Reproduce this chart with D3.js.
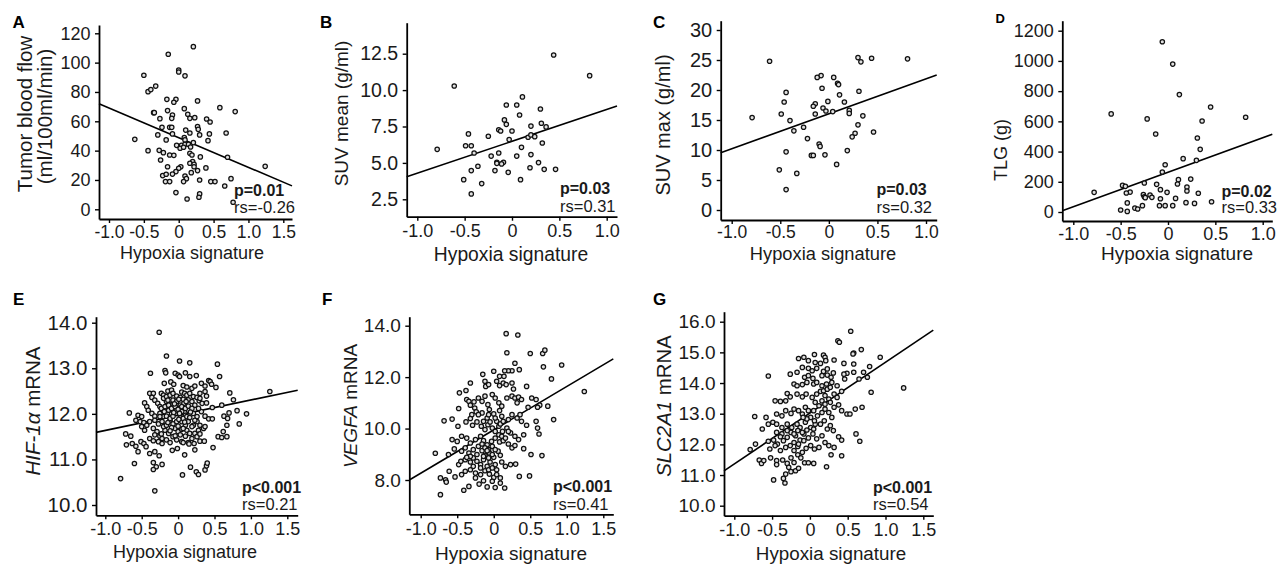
<!DOCTYPE html>
<meta charset="utf-8">
<style>
    body { margin: 0; background: #fff; }

    text {
        font-family: "Liberation Sans", Arial, sans-serif;
        fill: #1a1a1a;
        white-space: pre;
    }

    .axis path { stroke: #000; stroke-width: 1.8px; }
    .axis line { stroke: #000; stroke-width: 1.4px; }

    .dot {
        fill: #e0e0e0;
        stroke: #111;
        stroke-width: 1.25px;
    }

    .fit {
        stroke: #000;
        stroke-width: 1.6px;
    }
</style>

<svg width="1287" height="565"></svg>

<script src="https://cdn.jsdelivr.net/npm/d3@7"></script>
<script>

    // DATA  ([hypoxia signature, value])

    var pointsA = [[0.21,110.9],[-0.15,105.7],[-0.50,91.4],[0,95],[0,93.6],[0.09,91],[-0.44,80.2],[-0.40,81.6],[-0.33,84],[-0.17,75],[-0.04,75],[-0.07,73],[0.27,73.9],[0.59,69.3],[0.81,66.6],[0.08,68.6],[-0.16,67.3],[-0.09,64.3],[-0.36,65.9],[-0.35,65.9],[0.13,64.8],[0.16,62],[0.23,62.5],[-0.27,61.8],[-0.10,62],[0.40,61.6],[0.45,59.5],[0.27,56.4],[0.28,54.5],[-0.13,55.9],[-0.10,55.9],[-0.24,55.9],[0.10,54],[0.16,52],[0.30,50.7],[0.44,51.4],[0.68,52],[-0.30,50.7],[-0.09,51.4],[0.08,48.9],[-0.63,47.7],[-0.18,47.3],[0.09,47.3],[0.21,45.5],[0.42,46.8],[-0.03,43.6],[0.04,43.6],[0.09,44.3],[0.14,44.3],[0.02,41.6],[0.07,42.3],[0.17,42.5],[-0.44,40],[-0.28,40.2],[-0.22,38.6],[0.16,38.2],[0.19,37],[-0.13,37],[-0.07,36.8],[0.31,35.7],[0.70,35.5],[0.20,32.5],[0.16,31.4],[0.22,30.7],[-0.26,33.6],[-0.16,29],[0.03,29],[0,28],[-0.04,25.7],[0.22,29],[0.39,28.2],[1.24,29.3],[-0.23,23],[-0.18,23.9],[-0.09,24],[0.18,25],[0.27,26.4],[0.09,22.7],[0.11,20.9],[0.07,18.9],[-0.19,18.9],[-0.13,18.9],[0.30,20],[0.46,18.9],[0.52,18.9],[0.75,20.9],[0.66,15.9],[-0.04,11.4],[0.12,7],[0.30,10.5],[0.29,8.2],[0.78,4.8]];

    var pointsB = [[0.44,12.41],[0.82,10.99],[-0.61,10.28],[0.11,9.53],[-0.06,8.98],[0.05,8.98],[0.30,8.70],[0.08,8.29],[-0.08,7.95],[-0.06,7.65],[0.20,7.53],[0.31,7.72],[0.36,7.47],[-0.14,7.28],[-0.12,7.19],[0,7.19],[-0.46,6.99],[-0.25,6.83],[0.17,6.76],[0.20,6.92],[0.24,6.80],[-0.03,6.60],[0.32,6.37],[-0.49,6.18],[-0.43,6.18],[0.10,6.07],[-0.40,5.68],[-0.14,5.68],[-0.79,5.93],[-0.22,5.47],[0.05,5.47],[0.20,5.57],[-0.16,5.04],[-0.16,4.97],[-0.09,5.04],[-0.11,4.93],[0.28,5.02],[-0.36,4.77],[0.19,4.67],[0.34,4.56],[0.46,4.56],[-0.43,4.47],[-0.18,4.47],[-0.04,4.35],[-0.51,3.85],[0.09,3.85],[-0.32,3.58],[-0.43,2.87]];

    var pointsC = [[-0.61,24.8],[0.30,25.4],[0.44,25.3],[0.81,25.2],[0.33,24.7],[-0.08,22.4],[-0.12,22.1],[0.05,22.1],[0.09,21.1],[0.10,20.9],[-0.07,20.3],[0.31,19.8],[-0.44,19.6],[0.11,19.2],[-0.01,18.1],[-0.46,18.0],[0.16,18.0],[-0.14,17.7],[-0.16,17.3],[-0.06,17],[-0.03,16.5],[0.04,16.4],[0.21,16.6],[0.21,16.1],[-0.14,16],[-0.49,16],[0.35,15.7],[-0.79,15.4],[-0.40,14.9],[0.30,14.2],[-0.26,13.8],[-0.36,13.2],[0.27,12.8],[0.46,13],[0.24,12.2],[-0.22,11.9],[-0.10,11],[-0.09,10.6],[-0.44,9.7],[0.19,9.9],[-0.18,9.1],[-0.16,9.1],[-0.04,9.2],[0.08,7.6],[-0.51,6.7],[-0.33,6.1],[-0.44,3.4]];

    var pointsD = [[-0.06,1127],[0.05,979],[0.12,777],[0.45,695],[-0.60,649],[0.82,627],[-0.22,616],[0.36,602],[-0.13,516],[0.31,490],[0.34,415],[0.16,353],[0.30,342],[-0.03,313],[-0.06,265],[0.11,214],[0.24,218],[-0.25,192],[-0.48,176],[-0.45,170],[-0.12,183],[0.10,185],[0.20,165],[0.20,139],[-0.26,115],[-0.25,101],[-0.24,95],[-0.19,112],[-0.17,97],[-0.78,130],[-0.40,132],[-0.44,126],[-0.08,148],[-0.01,130],[0.32,124],[0.08,90],[-0.08,88],[-0.43,60],[0.19,62],[0.28,57],[0.46,68],[-0.27,42],[-0.09,42],[-0.03,42],[0.05,42],[-0.35,26],[-0.32,20],[-0.50,13],[-0.43,4]];

    var pointsE = [[-0.26,13.79],[-0.16,13.27],[0.02,13.16],[0.16,13.12],[0.54,13.09],[-0.38,12.89],[-0.18,12.95],[-0.17,12.90],[-0.04,12.89],[0,12.85],[0.02,12.82],[0.10,12.90],[0.16,12.82],[0.25,12.84],[0.57,12.82],[0.42,12.73],[0.44,12.71],[0.32,12.67],[0.37,12.61],[0.46,12.65],[0.52,12.58],[-0.19,12.67],[-0.10,12.70],[-0.06,12.65],[0.07,12.62],[0.12,12.59],[0.19,12.56],[0.23,12.61],[0.30,12.45],[0.37,12.49],[0.39,12.39],[0.71,12.46],[1.26,12.49],[-0.39,12.45],[-0.34,12.45],[-0.23,12.45],[-0.20,12.41],[-0.14,12.50],[-0.09,12.52],[0.05,12.48],[0.09,12.45],[0.76,12.31],[-0.36,12.36],[-0.32,12.30],[-0.46,12.24],[-0.43,12.16],[-0.28,12.23],[-0.25,12.16],[-0.16,12.27],[-0.11,12.21],[-0.07,12.30],[-0.02,12.27],[0.03,12.19],[0.08,12.23],[0.14,12.31],[0.19,12.27],[0.23,12.19],[0.29,12.29],[0.33,12.23],[0.39,12.24],[0.47,12.14],[0.60,12.19],[0.81,12.07],[0.94,12.00],[-0.67,12.02],[-0.55,11.97],[-0.50,11.94],[-0.41,12.08],[-0.36,12.01],[-0.32,11.95],[-0.25,12.01],[-0.20,11.94],[-0.13,12.08],[-0.09,12.00],[-0.03,12.07],[0.05,12.05],[0.10,11.97],[0.14,12.08],[0.21,12.01],[0.26,11.94],[0.32,12.05],[0.37,11.95],[0.42,11.89],[0.47,11.89],[0.63,11.95],[0.68,11.90],[0.70,12.02],[0.84,11.78],[-0.58,11.86],[-0.52,11.83],[-0.47,11.81],[-0.43,11.75],[-0.39,11.83],[-0.32,11.86],[-0.27,11.78],[-0.22,11.83],[-0.18,11.75],[-0.11,11.86],[-0.07,11.78],[-0.02,11.83],[0.05,11.83],[0.10,11.75],[0.14,11.83],[0.21,11.75],[0.26,11.83],[0.30,11.75],[0.35,11.68],[0.67,11.75],[-0.50,11.72],[-0.46,11.64],[-0.34,11.68],[-0.29,11.61],[-0.18,11.64],[-0.13,11.57],[-0.04,11.68],[0,11.61],[0.05,11.66],[0.12,11.64],[0.16,11.57],[0.23,11.57],[0.28,11.64],[0.37,11.72],[0.62,11.61],[0.55,11.50],[0.60,11.48],[0.67,11.50],[-0.72,11.56],[-0.65,11.51],[-0.71,11.32],[-0.63,11.35],[-0.58,11.29],[-0.51,11.39],[-0.47,11.35],[-0.55,11.17],[-0.44,11.28],[-0.39,11.46],[-0.34,11.41],[-0.32,11.54],[-0.25,11.51],[-0.22,11.46],[-0.27,11.39],[-0.22,11.35],[-0.16,11.43],[-0.11,11.37],[-0.07,11.50],[-0.02,11.43],[0.05,11.39],[0.07,11.37],[0.14,11.37],[0.15,11.34],[0.22,11.35],[0.30,11.40],[0.36,11.40],[0.26,11.50],[0.30,11.56],[0.48,11.26],[-0.39,11.13],[-0.32,11.17],[-0.26,11.08],[-0.22,10.89],[-0.34,10.93],[-0.30,10.84],[-0.34,10.78],[-0.60,10.91],[-0.08,11.20],[-0.01,11.24],[0.09,11.10],[0.23,11.21],[0.17,10.83],[0.25,10.73],[0.28,10.67],[0.37,10.77],[0.39,10.86],[0.40,10.92],[0.06,10.66],[-0.79,10.58],[-0.32,10.31],
        [-0.20,12.34],[-0.16,12.38],[-0.11,12.41],[-0.07,12.45],[-0.02,12.39],[0.03,12.36],[0.07,12.32],[0.12,12.41],[0.16,12.45],[0.21,12.38],[0.26,12.36],[0.30,12.34],[-0.23,12.12],[-0.18,12.16],[-0.13,12.19],[-0.09,12.12],[-0.04,12.16],[0,12.10],[0.05,12.16],[0.10,12.12],[0.14,12.17],[0.19,12.12],[0.28,12.12],[-0.25,11.94],[-0.16,11.95],[-0.11,11.90],[-0.07,11.95],[0.03,11.92],[0.07,11.90],[0.12,11.94],[0.16,11.92],[0.23,11.86],[-0.20,11.72],[-0.16,11.75],[-0.09,11.70],[0,11.73],[0.07,11.68],[0.19,11.72],[-0.23,11.56],[-0.11,11.63],[0.03,11.54],[0.10,11.51],
        [-0.14,12.30],[-0.05,12.22],[0.01,12.32],[0.11,12.27],[-0.19,12.05],[-0.06,12.03],[0.02,12.01],[0.17,12.04],[-0.14,11.81],[0.01,11.88],[0.09,11.82],[-0.04,11.52],[0.19,11.46]];

    var pointsF = [[0.17,13.69],[0.33,13.64],[0.18,12.95],[0.50,12.92],[0.67,12.92],[0.70,13.05],[0.29,12.54],[0.35,12.29],[0.25,12.25],[0.20,12.25],[0.15,12.25],[0.68,12.40],[0.93,12.47],[0.79,11.93],[1.24,11.44],[-0.15,12.11],[0,12.23],[0.08,12.03],[0.14,12.03],[-0.32,11.77],[-0.12,11.84],[-0.11,11.64],[-0.07,11.71],[0.04,11.84],[0.08,11.67],[0.13,11.77],[0.17,11.71],[0.25,11.77],[0.27,11.54],[0.45,11.64],[-0.38,11.48],[-0.47,11.39],[-0.37,11.13],[-0.34,11.06],[-0.32,10.91],[-0.26,10.80],[-0.27,11.04],[-0.21,11.19],[-0.16,11.06],[-0.12,11.26],[-0.08,10.93],[-0.02,11.32],[0.02,11.19],[0.07,11.00],[0.11,10.87],[0.18,11.19],[0.25,11.26],[0.29,11.19],[0.34,11.22],[0.38,11.13],[0.32,11.00],[0.52,11.19],[0.58,11.13],[0.63,10.91],[0.60,10.83],[0.74,10.87],[0.47,10.83],[-0.48,10.78],[-0.24,10.65],[-0.30,10.54],[-0.16,10.61],[-0.06,10.74],[0,10.57],[0.08,10.70],[0.11,10.48],[0.20,10.35],[0.25,10.54],[0.32,10.41],[0.36,10.54],[0.38,10.28],[0.45,10.13],[0.58,10.28],[0.60,10.02],[0.62,9.79],[0.82,10.35],[-0.68,10.30],[-0.57,10.37],[-0.49,10.09],[-0.38,10.26],[-0.32,10.39],[-0.29,10.13],[-0.23,10.26],[-0.17,10.09],[-0.12,9.96],[-0.08,10.15],[-0.02,10.02],[0.02,9.89],[0.07,10.09],[0.12,9.89],[0.18,10.02],[0.23,9.83],[0.29,9.70],[0.34,9.57],[0.41,9.76],[-0.57,9.57],[-0.50,9.50],[-0.44,9.70],[-0.37,9.63],[-0.32,9.44],[-0.25,9.57],[-0.18,9.70],[-0.14,9.53],[-0.09,9.37],[-0.03,9.50],[0.02,9.63],[0.08,9.48],[0.13,9.53],[0.20,9.40],[0.25,9.25],[0.29,9.34],[0.41,9.22],[0.51,8.99],[0.66,8.95],[-0.80,9.04],[-0.62,8.99],[-0.54,9.21],[-0.44,9.12],[-0.39,9.25],[-0.34,9.05],[-0.28,9.18],[-0.23,8.99],[-0.16,9.14],[-0.12,8.96],[-0.06,9.05],[0,8.88],[0.06,9.12],[0.09,8.96],[-0.48,8.60],[-0.45,8.73],[-0.39,8.79],[-0.32,8.70],[-0.28,8.53],[-0.23,8.73],[-0.18,8.60],[-0.14,8.79],[-0.09,8.53],[-0.05,8.70],[0.02,8.60],[0.11,8.70],[0.16,8.53],[0.23,8.60],[0.30,8.62],[0.35,8.14],[0.49,8.16],[-0.61,8.34],[-0.53,8.12],[-0.44,8.21],[-0.39,8.34],[-0.32,8.40],[-0.25,8.27],[-0.18,8.21],[-0.12,8.36],[-0.06,8.23],[0,8.10],[0.04,8.21],[0.09,8.08],[-0.73,8.08],[-0.66,8.01],[-0.65,7.92],[-0.73,7.43],[-0.41,7.60],[-0.34,7.75],[-0.20,7.84],[-0.09,7.73],[0.02,7.71],[-0.02,7.95],[0.09,7.88],[0.15,7.69],[-0.25,8.08],[-0.14,7.97],
        [-0.21,9.31],[-0.16,9.40],[-0.12,9.25],[-0.07,9.18],[-0.02,9.31],[0.02,9.18],[-0.14,8.92],[-0.07,8.86],[-0.02,8.99],[-0.09,9.14],[-0.28,8.86],[-0.32,8.92],[-0.37,8.88],[-0.18,8.47],[-0.07,8.40],[-0.02,8.47],[0.04,8.40],[0.07,9.76],[0.11,9.70],[0.16,9.63],[0.20,9.89],[0.04,10.28],[0.09,10.18],[0.13,10.28],[-0.09,10.41],[-0.14,10.28],[-0.05,10.26],[-0.21,10.54],[-0.07,10.54],[0.02,10.41]];

    var pointsG = [[0.54,15.69],[0.37,15.38],[0.39,15.33],[0.58,14.98],[0.57,14.95],[0.68,15.09],[0.93,14.84],[1.24,13.84],[-0.55,14.23],[-0.15,14.80],[-0.08,14.84],[0.06,14.93],[0.18,14.91],[0.20,14.84],[-0.02,14.73],[0.07,14.67],[0.14,14.64],[0.21,14.73],[0.32,14.75],[0.45,14.64],[-0.10,14.51],[-0.02,14.48],[0.03,14.40],[0.09,14.48],[0.18,14.38],[0.23,14.46],[0.58,14.62],[0.79,14.54],[0.71,14.35],[0.58,14.35],[0.49,14.32],[-0.26,14.29],[-0.17,14.35],[-0.07,14.19],[-0.02,14.24],[0.04,14.15],[0.16,14.24],[0.23,14.26],[0.28,14.19],[0.31,14.33],[0.45,14.29],[0.46,14.13],[0.65,14.13],[0.76,14.19],[-0.21,13.97],[-0.17,13.91],[-0.10,13.95],[-0.04,14.02],[0.05,13.97],[0.09,14.02],[0.16,13.91],[0.22,13.97],[0.29,14.02],[0.36,13.91],[0.81,13.70],[-0.30,13.66],[-0.26,13.55],[-0.32,13.42],[-0.17,13.64],[-0.10,13.55],[-0.05,13.64],[0.03,13.53],[0.09,13.64],[0.14,13.73],[0.20,13.59],[0.25,13.48],[0.32,13.64],[0.36,13.53],[0.42,13.73],[-0.46,13.42],[-0.39,13.40],[0.60,13.15],[0.69,13.21],[0.38,13.29],[0.42,13.10],[0.49,12.99],[0.53,12.99],[-0.73,12.91],[-0.58,12.88],[-0.44,12.99],[-0.37,12.93],[-0.32,13.10],[-0.25,13.01],[-0.21,13.15],[-0.15,13.10],[-0.10,12.99],[-0.06,13.21],[-0.02,13.10],[0.05,13.10],[0.10,12.93],[0.16,13.04],[0.20,13.15],[0.25,13.04],[0.29,12.88],[-0.63,12.50],[-0.55,12.66],[-0.49,12.72],[-0.44,12.66],[-0.37,12.55],[-0.30,12.66],[-0.24,12.55],[-0.17,12.66],[-0.13,12.55],[-0.06,12.72],[0.01,12.55],[0.07,12.66],[0.14,12.66],[0.19,12.77],[0.23,12.50],[0.27,12.61],[0.31,12.45],[0.38,12.25],[0.42,12.14],[0.61,12.34],[0.66,12.10],[-0.55,12.10],[-0.48,12.14],[-0.43,12.01],[-0.37,12.34],[-0.30,12.23],[-0.25,12.39],[-0.19,12.28],[-0.13,12.14],[-0.08,12.34],[-0.02,12.21],[0.04,12.34],[0.09,12.18],[0.16,12.28],[0.20,12.06],[0.25,11.96],[0.32,11.90],[-0.79,11.83],[-0.72,12.01],[-0.53,11.85],[-0.46,11.96],[-0.39,11.80],[-0.32,11.90],[-0.26,11.96],[-0.21,11.80],[-0.16,11.93],[-0.10,11.74],[-0.05,11.87],[0.01,11.96],[0.06,11.85],[0.12,11.90],[0.28,11.66],[0.42,11.63],[-0.67,11.49],[-0.64,11.38],[-0.61,11.47],[-0.52,11.56],[-0.44,11.47],[-0.44,11.34],[-0.36,11.49],[-0.30,11.38],[-0.25,11.56],[-0.21,11.41],[-0.16,11.66],[-0.12,11.56],[-0.07,11.40],[-0.02,11.40],[0.05,11.38],[-0.28,11.25],[-0.25,11.11],[-0.19,11.14],[-0.15,11.22],[0.22,11.27],[-0.32,11.03],[-0.35,10.89],[-0.48,10.84],[-0.33,10.74],
        [0.07,13.37],[0.12,13.26],[0.16,13.42],[0.20,13.31],[0.27,13.37],[0.32,13.21],[0.01,12.88],[0.06,12.77],[-0.04,12.83],[-0.09,12.88],[-0.16,12.45],[-0.21,12.34],[-0.10,12.39],[-0.04,12.47],[0.05,12.50],[-0.30,12.45],[-0.35,12.12],[-0.39,12.25],[-0.44,12.39],[-0.21,12.06],[-0.15,12.01],[-0.08,12.12],[0.18,13.75],[0.23,13.80],[0.27,13.86]];

    // regression lines: [intercept, slope]
    var fits = [[48.8, -20.2], [6.48, 2.19], [16.04, 5.83], [263, 228], [11.97, 0.334], [9.95, 1.686], [13.02, 1.659]];

    var xTicksWide = [-1, -0.5, 0, 0.5, 1, 1.5],
        xTicksNarrow = [-1, -0.5, 0, 0.5, 1];

    var yTicksA = [0, 20, 40, 60, 80, 100, 120],
        yTicksB = [2.5, 5, 7.5, 10, 12.5],
        yTicksC = [0, 5, 10, 15, 20, 25, 30],
        yTicksD = [0, 200, 400, 600, 800, 1000, 1200],
        yTicksE = [10, 11, 12, 13, 14],
        yTicksF = [8, 10, 12, 14],
        yTicksG = [10, 11, 12, 13, 14, 15, 16];

    var letters = ["A", "B", "C", "D", "E", "F", "G"];
    var yTitles = [["Tumor blood flow", "(ml/100ml/min)"], ["SUV mean (g/ml)"], ["SUV max (g/ml)"], ["TLG (g)"],
                   ["*HIF-1α* mRNA"], ["*VEGFA* mRNA"], ["*SLC2A1* mRNA"]];
    var xTitle = "Hypoxia signature";
    var pLabels = ["p=0.01", "p=0.03", "p=0.03", "p=0.02", "p<0.001", "p<0.001", "p<0.001"];
    var rsLabels = ["rs=-0.26", "rs=0.31", "rs=0.32", "rs=0.33", "rs=0.21", "rs=0.41", "rs=0.54"];

    // LAYOUT (pixels)

    var fmtX = function (d) { return d === 0 ? "0" : d.toFixed(1); },
        fmtInt = function (d) { return String(d); },
        fmt1 = function (d) { return d.toFixed(1); };

    var layout = [
        { pts: pointsA, xt: xTicksWide, yt: yTicksA, yf: fmtInt, left: 99, right: 292, top: 25, bottom: 219,
          xRef: [-1, 109, 1.5, 283.3], yRef: [0, 209.3, 120, 33.3], yfs: 18, xfs: 17.5, xpad: 2.5, letter: [12.5, 28.3, 17],
          yPos: [[31.5, 114], [51.5, 116.5]], yTfs: 20.5, xPos: [192, 258.5, 18], statX: 234, pY: 196, rsY: 213 },
        { pts: pointsB, xt: xTicksNarrow, yt: yTicksB, yf: fmt1, left: 406.7, right: 617, top: 22.7, bottom: 216.7,
          xRef: [-1, 417.3, 1, 606.7], yRef: [2.5, 199.3, 12.5, 53.7], yfs: 19.5, xfs: 18, xpad: 3.5, letter: [320, 27.8, 17],
          yPos: [[348, 113.5]], yTfs: 19, xPos: [511, 260.5, 19.3], statX: 560, pY: 193.5, rsY: 211.5 },
        { pts: pointsC, xt: xTicksNarrow, yt: yTicksC, yf: fmtInt, left: 720.7, right: 936.7, top: 20.7, bottom: 220,
          xRef: [-1, 731.7, 1, 926], yRef: [0, 210, 30, 30], yfs: 20, xfs: 17.5, xpad: 2, letter: [653, 28.3, 17],
          yPos: [[669.5, 125]], yTfs: 20, xPos: [823, 259.5, 18.3], statX: 876.5, pY: 195, rsY: 213 },
        { pts: pointsD, xt: xTicksNarrow, yt: yTicksD, yf: fmtInt, left: 1062.3, right: 1272.3, top: 20.7, bottom: 221,
          xRef: [-1, 1073.3, 1, 1262.7], yRef: [0, 212, 1200, 30.7], yfs: 18, xfs: 18, xpad: 2.5, letter: [995.5, 22.5, 13],
          yPos: [[1007, 150]], yTfs: 18, xPos: [1177, 259.5, 19], statX: 1221.5, pY: 196.5, rsY: 213 },
        { pts: pointsE, xt: xTicksWide, yt: yTicksE, yf: fmt1, left: 96, right: 297.7, top: 316.7, bottom: 515.3,
          xRef: [-1, 105.3, 1.5, 287.3], yRef: [10, 505, 14, 322.7], yfs: 20.5, xfs: 18, xpad: 3, letter: [13, 305, 17],
          yPos: [[39.5, 411]], yTfs: 20.5, xPos: [185, 558, 18], statX: 242, pY: 493.3, rsY: 510 },
        { pts: pointsF, xt: xTicksWide, yt: yTicksF, yf: fmt1, left: 409.3, right: 613.3, top: 316.7, bottom: 514.3,
          xRef: [-1, 420.7, 1.5, 603.3], yRef: [8, 480, 14, 325.7], yfs: 19, xfs: 18, xpad: 3.5, letter: [322, 305, 17],
          yPos: [[357, 406]], yTfs: 19, xPos: [511, 560.3, 19], statX: 553, pY: 491.8, rsY: 510 },
        { pts: pointsG, xt: xTicksWide, yt: yTicksG, yf: fmt1, left: 724, right: 933.3, top: 311.7, bottom: 515.7,
          xRef: [-1, 734.3, 1.5, 923.3], yRef: [10, 505.7, 16, 321.7], yfs: 19, xfs: 18, xpad: 3.5, letter: [653, 305, 17],
          yPos: [[670.5, 406]], yTfs: 20.4, xPos: [831, 560.3, 18.8], statX: 873, pY: 493.3, rsY: 510 }
    ];

    // DRAWING

    var svg = d3.select("svg");

    layout.forEach(function (P, i) {

        var g = svg.append("g");

        var x = d3.scaleLinear().domain([P.xRef[0], P.xRef[2]]).range([P.xRef[1], P.xRef[3]]);
        x.domain([x.invert(P.left), x.invert(P.right)]).range([P.left, P.right]);

        var y = d3.scaleLinear().domain([P.yRef[0], P.yRef[2]]).range([P.yRef[1], P.yRef[3]]);
        y.domain([y.invert(P.bottom), y.invert(P.top)]).range([P.bottom, P.top]);

        g.append("g")
            .attr("class", "axis")
            .attr("transform", "translate(0," + P.bottom + ")")
            .call(d3.axisBottom(x).tickValues(P.xt).tickFormat(fmtX)
                .tickSizeInner(4).tickSizeOuter(0).tickPadding(P.xpad))
            .attr("font-size", P.xfs);

        g.append("g")
            .attr("class", "axis")
            .attr("transform", "translate(" + P.left + ",0)")
            .call(d3.axisLeft(y).tickValues(P.yt).tickFormat(P.yf)
                .tickSizeInner(4).tickSizeOuter(0).tickPadding(4.5))
            .attr("font-size", P.yfs);

        // regression line across the x range
        var xd = x.domain(), f = fits[i];
        g.append("line")
            .attr("class", "fit")
            .attr("x1", x(xd[0])).attr("y1", y(f[0] + f[1] * xd[0]))
            .attr("x2", x(xd[1])).attr("y2", y(f[0] + f[1] * xd[1]));

        g.selectAll(".dot")
            .data(P.pts)
            .enter().append("circle")
            .attr("class", "dot")
            .attr("r", 2.2)
            .attr("cx", function (d) { return x(d[0]); })
            .attr("cy", function (d) { return y(d[1]); });

        // panel letter
        g.append("text")
            .attr("x", P.letter[0]).attr("y", P.letter[1])
            .attr("font-size", P.letter[2])
            .attr("font-weight", "bold")
            .style("fill", "#000")
            .text(letters[i]);

        // y title (may have italic gene name)
        yTitles[i].forEach(function (line, k) {
            var t = g.append("text")
                .attr("transform", "translate(" + P.yPos[k][0] + "," + P.yPos[k][1] + ") rotate(-90)")
                .attr("text-anchor", "middle")
                .attr("font-size", P.yTfs);
            line.split("*").forEach(function (part, j) {
                if (!part) return;
                t.append("tspan")
                    .attr("font-style", j % 2 ? "italic" : null)
                    .text(part);
            });
        });

        // x title
        g.append("text")
            .attr("x", P.xPos[0]).attr("y", P.xPos[1])
            .attr("text-anchor", "middle")
            .attr("font-size", P.xPos[2])
            .text(xTitle);

        // stats
        g.append("text")
            .attr("x", P.statX).attr("y", P.pY)
            .attr("font-size", 16)
            .attr("font-weight", "bold")
            .text(pLabels[i]);

        g.append("text")
            .attr("x", P.statX).attr("y", P.rsY)
            .attr("font-size", 16.5)
            .text(rsLabels[i]);
    });

</script>
